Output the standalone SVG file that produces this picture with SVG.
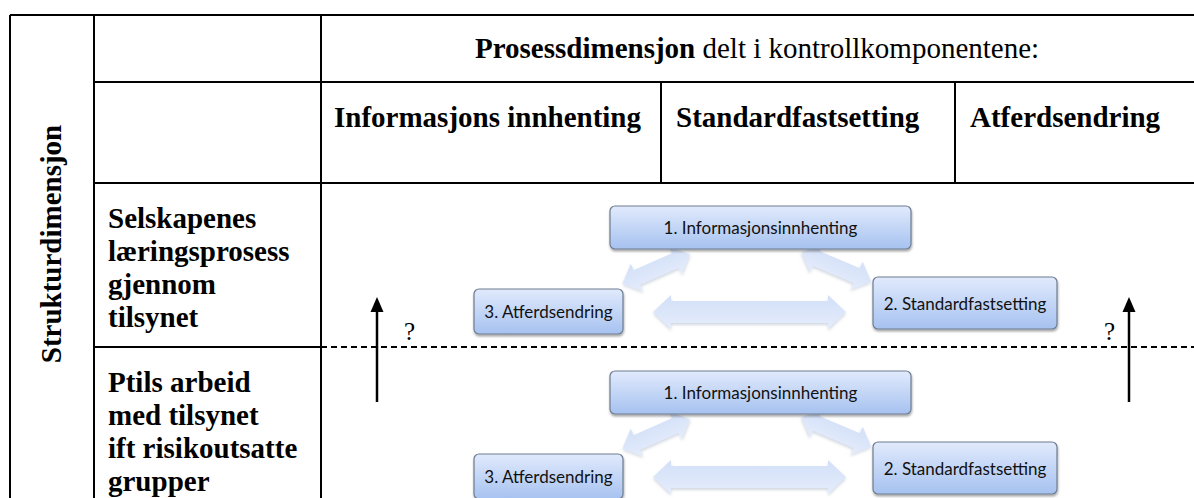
<svg xmlns="http://www.w3.org/2000/svg" width="1194" height="498" viewBox="0 0 1194 498">
<defs>
<linearGradient id="boxg" x1="0" y1="0" x2="0" y2="1">
<stop offset="0" stop-color="#e1eafc"/>
<stop offset="1" stop-color="#a6c2f0"/>
</linearGradient>
<linearGradient id="arrg" x1="0" y1="0" x2="0" y2="1">
<stop offset="0" stop-color="#d2dff7"/>
<stop offset="1" stop-color="#e5edfc"/>
</linearGradient>
<filter id="sh" x="-20%" y="-30%" width="140%" height="170%">
<feDropShadow dx="0.5" dy="2" stdDeviation="1.3" flood-color="#000" flood-opacity="0.35"/>
</filter>
<filter id="sh2" x="-20%" y="-40%" width="140%" height="180%">
<feDropShadow dx="0" dy="2" stdDeviation="1.5" flood-color="#8090a8" flood-opacity="0.35"/>
</filter>
</defs>
<style>
.ln{stroke:#000;stroke-width:2;fill:none}
.dash{stroke:#000;stroke-width:2;fill:none;stroke-dasharray:6 4}
.tb{font-family:"Liberation Serif","Times New Roman",serif;font-weight:bold;font-size:29px;fill:#000}
.tr{font-family:"Liberation Serif","Times New Roman",serif;font-size:29px;fill:#000}
.q{font-family:"Liberation Serif","Times New Roman",serif;font-size:25px;fill:#000}
.box{fill:url(#boxg);stroke:#6e7c90;stroke-width:1.2;filter:url(#sh)}
.bt{font-family:Lato,"Open Sans",sans-serif;font-size:17px;fill:#111;text-anchor:middle}
.fat{fill:url(#arrg);filter:url(#sh2)}
.bar{stroke:#000;stroke-width:2.5;fill:none}
.head{fill:#000}
</style>
<rect width="1194" height="498" fill="#fff"/>
<g id="table">
<line class="ln" x1="10" y1="15" x2="1194" y2="15"/>
<line class="ln" x1="10" y1="15" x2="10" y2="498"/>
<line class="ln" x1="94" y1="15" x2="94" y2="498"/>
<line class="ln" x1="321" y1="15" x2="321" y2="498"/>
<line class="ln" x1="94" y1="82" x2="1194" y2="82"/>
<line class="ln" x1="94" y1="183" x2="1194" y2="183"/>
<line class="ln" x1="661" y1="82" x2="661" y2="183"/>
<line class="ln" x1="955" y1="82" x2="955" y2="183"/>
<line class="ln" x1="94" y1="347" x2="321" y2="347"/>
<line class="dash" x1="321" y1="347" x2="1194" y2="347"/>
</g>
<g id="headers">
<text class="tr" x="475" y="58"><tspan font-weight="bold">Prosessdimensjon</tspan> delt i kontrollkomponentene:</text>
<text class="tb" x="334" y="127">Informasjons innhenting</text>
<text class="tb" x="676" y="127">Standardfastsetting</text>
<text class="tb" x="970" y="127">Atferdsendring</text>
<text class="tb" x="61" y="244" font-size="25" text-anchor="middle" transform="rotate(-90 61 244)">Strukturdimensjon</text>
</g>
<g id="row1-label">
<text class="tb" x="108" y="228">Selskapenes</text>
<text class="tb" x="108" y="261">læringsprosess</text>
<text class="tb" x="108" y="294">gjennom</text>
<text class="tb" x="108" y="327">tilsynet</text>
</g>
<g id="row2-label">
<text class="tb" x="108" y="392">Ptils arbeid</text>
<text class="tb" x="108" y="425">med tilsynet</text>
<text class="tb" x="108" y="458">ift risikoutsatte</text>
<text class="tb" x="108" y="491">grupper</text>
</g>
<g id="connectors">
<g id="fat-upper">
<path class="fat" transform="translate(749.5 312)" d="M-96.5,0 L-78.5,-17 L-78.5,-11 L78.5,-11 L78.5,-17 L96.5,0 L78.5,17 L78.5,11 L-78.5,11 L-78.5,17 Z"/>
<path class="fat" transform="translate(656 269) rotate(-23.8)" d="M-37,0 L-21,-15 L-21,-8 L21,-8 L21,-15 L37,0 L21,15 L21,8 L-21,8 L-21,15 Z"/>
<path class="fat" transform="translate(836.5 267) rotate(22.9)" d="M-38,0 L-22,-15 L-22,-8 L22,-8 L22,-15 L38,0 L22,15 L22,8 L-22,8 L-22,15 Z"/>
</g>
<g id="fat-lower" transform="translate(0 165)">
<path class="fat" transform="translate(749.5 312)" d="M-96.5,0 L-78.5,-17 L-78.5,-11 L78.5,-11 L78.5,-17 L96.5,0 L78.5,17 L78.5,11 L-78.5,11 L-78.5,17 Z"/>
<path class="fat" transform="translate(656 269) rotate(-23.8)" d="M-37,0 L-21,-15 L-21,-8 L21,-8 L21,-15 L37,0 L21,15 L21,8 L-21,8 L-21,15 Z"/>
<path class="fat" transform="translate(836.5 267) rotate(22.9)" d="M-38,0 L-22,-15 L-22,-8 L22,-8 L22,-15 L38,0 L22,15 L22,8 L-22,8 L-22,15 Z"/>
</g>
<g id="up-arrow-left">
<line class="bar" x1="377" y1="402" x2="377" y2="310"/>
<path class="head" d="M377,297 L383.5,312 L370.5,312 Z"/>
</g>
<g id="up-arrow-right">
<line class="bar" x1="1129" y1="402" x2="1129" y2="310"/>
<path class="head" d="M1129,297 L1135.5,312 L1122.5,312 Z"/>
</g>
<text class="q" x="404" y="340">?</text>
<text class="q" x="1104" y="340">?</text>
</g>
<g id="u-info">
<rect class="box" x="610" y="206" width="301" height="43" rx="5"/>
<text class="bt" x="760.5" y="234">1. Informasjonsinnhenting</text>
</g>
<g id="u-atferd">
<rect class="box" x="474" y="289" width="149" height="45" rx="5"/>
<text class="bt" x="548.5" y="318">3. Atferdsendring</text>
</g>
<g id="u-standard">
<rect class="box" x="873" y="277" width="184" height="52" rx="5"/>
<text class="bt" x="965" y="310">2. Standardfastsetting</text>
</g>
<g id="l-info">
<rect class="box" x="610" y="371" width="301" height="43" rx="5"/>
<text class="bt" x="760.5" y="399">1. Informasjonsinnhenting</text>
</g>
<g id="l-atferd">
<rect class="box" x="474" y="454" width="149" height="45" rx="5"/>
<text class="bt" x="548.5" y="483">3. Atferdsendring</text>
</g>
<g id="l-standard">
<rect class="box" x="873" y="442" width="184" height="52" rx="5"/>
<text class="bt" x="965" y="475">2. Standardfastsetting</text>
</g>
</svg>
